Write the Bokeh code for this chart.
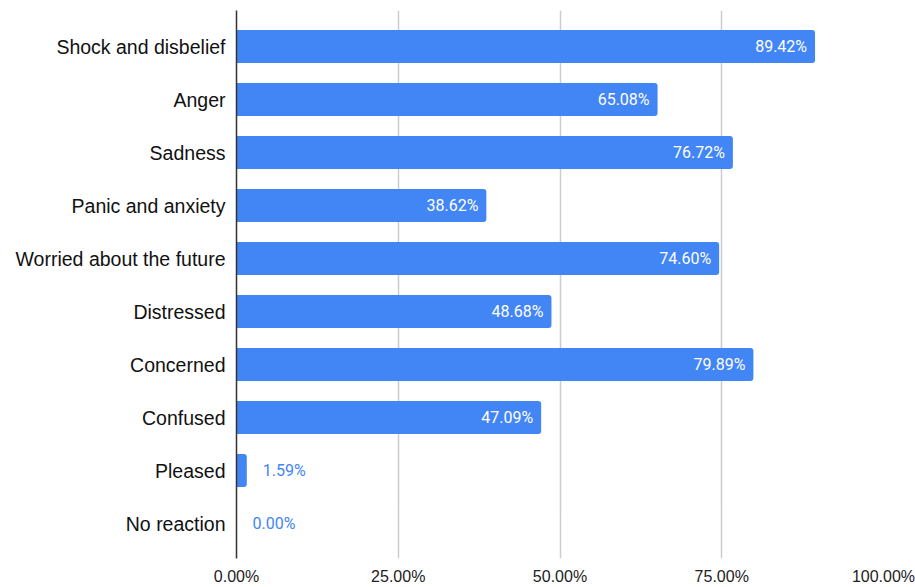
from bokeh.plotting import figure
from bokeh.models import ColumnDataSource, FixedTicker, Range1d
from bokeh.core.properties import value
from bokeh.embed import file_html
from bokeh.resources import INLINE

categories = ["Shock and disbelief", "Anger", "Sadness", "Panic and anxiety",
              "Worried about the future", "Distressed", "Concerned", "Confused",
              "Pleased", "No reaction"]
values = [89.42, 65.08, 76.72, 38.62, 74.60, 48.68, 79.89, 47.09, 1.59, 0.00]
x_ticks = [0, 25, 50, 75, 100]
x_tick_labels = ["0.00%", "25.00%", "50.00%", "75.00%", "100.00%"]

BLUE = "#4285F4"
pos = list(range(len(categories)))
labels = ["%.2f%%" % v for v in values]
inside = [v >= 10 for v in values]

src = ColumnDataSource(dict(y=pos, v=values, lab=labels))
src_in = ColumnDataSource(dict(y=[p for p, i in zip(pos, inside) if i],
                               v=[v for v, i in zip(values, inside) if i],
                               lab=[l for l, i in zip(labels, inside) if i]))
src_out = ColumnDataSource(dict(y=[p for p, i in zip(pos, inside) if not i],
                                v=[v for v, i in zip(values, inside) if not i],
                                lab=[l for l, i in zip(labels, inside) if not i]))

p = figure(width=915, height=587, output_backend="svg", toolbar_location=None,
           x_range=Range1d(0, 100), y_range=Range1d(9.66, -0.68),
           min_border_left=236, min_border_right=32, min_border_top=10,
           min_border_bottom=20)
p.outline_line_color = None
p.background_fill_color = "white"

p.hbar(y="y", left=0, right="v", height=0.62, source=src, fill_color=BLUE,
       line_color=None, border_radius=(0, 3, 3, 0))

p.text(x="v", y="y", text="lab", source=src_in, text_color="white",
       text_align="right", text_baseline="middle", x_offset=-8,
       text_font=value("Roboto"), text_font_size="16px")
p.text(x="v", y="y", text="lab", source=src_out, text_color=BLUE,
       text_align="left", text_baseline="middle", x_offset=16,
       text_font=value("Roboto"), text_font_size="16px")

p.xaxis.ticker = FixedTicker(ticks=x_ticks)
p.xaxis.major_label_overrides = {t: l for t, l in zip(x_ticks, x_tick_labels)}
p.xaxis.axis_line_color = None
p.xaxis.major_tick_line_color = None
p.xaxis.minor_tick_line_color = None
p.xaxis.major_label_text_font = "Liberation Sans"
p.xaxis.major_label_text_font_size = "16px"
p.xaxis.major_label_text_color = "#222222"
p.xaxis.major_label_standoff = 3

p.yaxis.ticker = FixedTicker(ticks=pos)
p.yaxis.major_label_overrides = {i: c for i, c in zip(pos, categories)}
p.yaxis.axis_line_color = "#333333"
p.yaxis.axis_line_width = 1.5
p.yaxis.major_tick_line_color = None
p.yaxis.minor_tick_line_color = None
p.yaxis.major_label_text_font = "Liberation Sans"
p.yaxis.major_label_text_font_size = "19.5px"
p.yaxis.major_label_text_color = "#111111"
p.yaxis.major_label_standoff = 5

p.xgrid.ticker = FixedTicker(ticks=[25, 50, 75, 100])
p.xgrid.grid_line_color = "#cccccc"
p.xgrid.grid_line_width = 1.5
p.ygrid.grid_line_color = None

open("out.html", "w").write(file_html(p, INLINE))
